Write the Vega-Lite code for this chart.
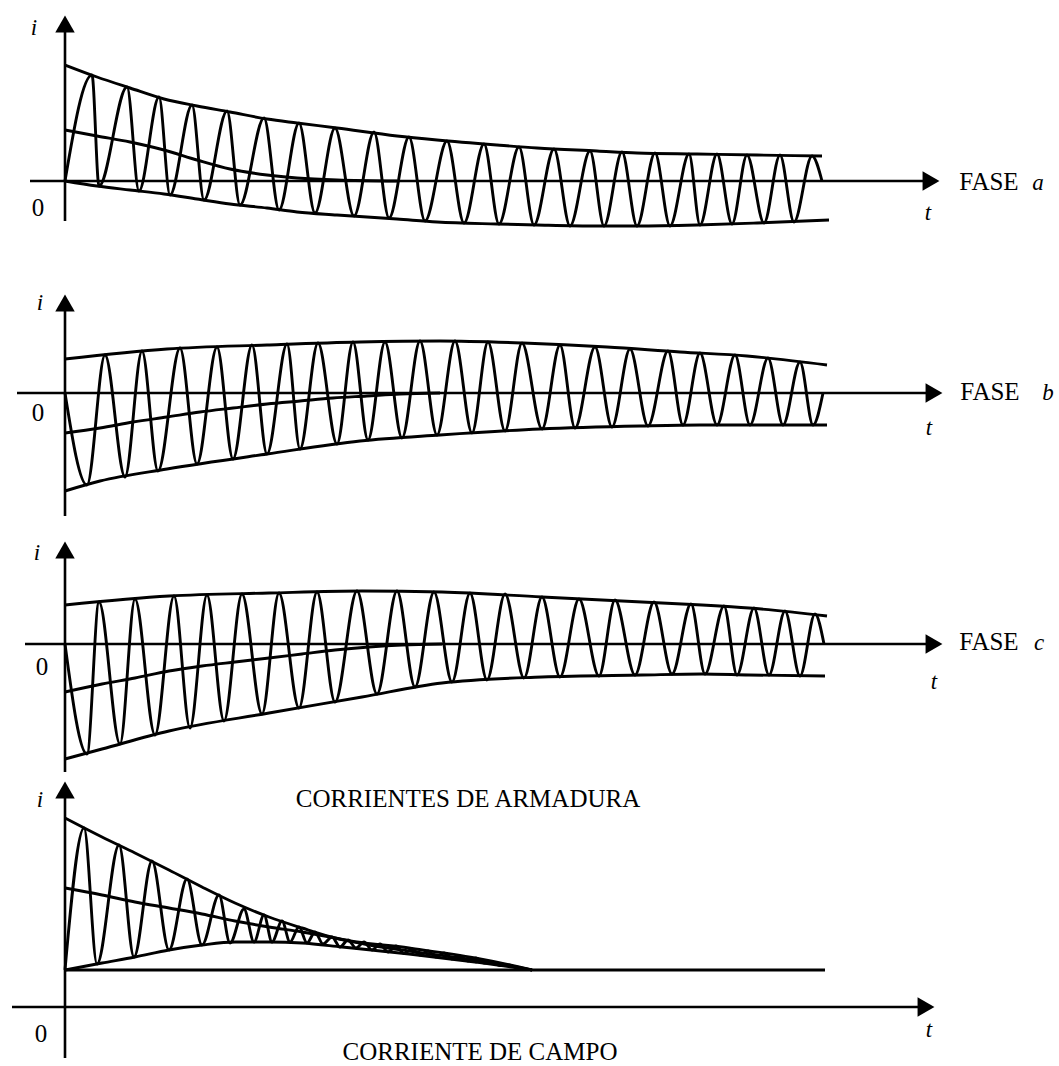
{
"$schema": "https://vega.github.io/schema/vega-lite/v6.json",
"padding": 0,
"spacing": 0,
"bounds": "flush",
"background": "white",
"config": {"view": {"stroke": null}},
"vconcat": [
{
"width": 1059, "height": 265,
"encoding": {
"x": {"field": "t", "type": "quantitative", "scale": {"domain": [-6.5, 99.4], "nice": false, "zero": false}, "axis": null},
"y": {"field": "i", "type": "quantitative", "scale": {"domain": [-8.4, 18.1], "nice": false, "zero": false}, "axis": null}
},
"layer": [
{"data": {"values": [
{"s":"onda","t":0,"i":0},{"s":"onda","t":2.7,"i":10.6},{"s":"onda","t":3.4,"i":-0.5},{"s":"onda","t":6.2,"i":9.4},{"s":"onda","t":7.4,"i":-1.0},{"s":"onda","t":9.4,"i":8.4},{"s":"onda","t":10.5,"i":-1.4},{"s":"onda","t":12.7,"i":7.6},{"s":"onda","t":13.9,"i":-1.9},{"s":"onda","t":16.2,"i":7.0},{"s":"onda","t":17.5,"i":-2.4},{"s":"onda","t":19.9,"i":6.3},{"s":"onda","t":21.4,"i":-2.9},{"s":"onda","t":23.4,"i":5.8},{"s":"onda","t":25.0,"i":-3.2},{"s":"onda","t":27.0,"i":5.3},{"s":"onda","t":28.9,"i":-3.5},{"s":"onda","t":30.9,"i":4.9},{"s":"onda","t":32.4,"i":-3.7},{"s":"onda","t":34.4,"i":4.4},{"s":"onda","t":36.0,"i":-4.0},{"s":"onda","t":38.2,"i":4.0},{"s":"onda","t":39.9,"i":-4.2},{"s":"onda","t":41.9,"i":3.7},{"s":"onda","t":43.4,"i":-4.3},{"s":"onda","t":45.4,"i":3.4},{"s":"onda","t":46.9,"i":-4.4},{"s":"onda","t":48.9,"i":3.2},{"s":"onda","t":50.5,"i":-4.5},{"s":"onda","t":52.5,"i":3.0},{"s":"onda","t":53.9,"i":-4.5},{"s":"onda","t":55.7,"i":2.9},{"s":"onda","t":57.2,"i":-4.5},{"s":"onda","t":59.0,"i":2.8},{"s":"onda","t":60.5,"i":-4.5},{"s":"onda","t":62.4,"i":2.7},{"s":"onda","t":63.5,"i":-4.4},{"s":"onda","t":65.2,"i":2.7},{"s":"onda","t":66.7,"i":-4.3},{"s":"onda","t":68.2,"i":2.6},{"s":"onda","t":69.9,"i":-4.2},{"s":"onda","t":71.5,"i":2.6},{"s":"onda","t":72.9,"i":-4.1},{"s":"onda","t":74.7,"i":2.5},{"s":"onda","t":75.7,"i":0},
{"s":"sup","t":0,"i":11.6},{"s":"sup","t":3.2,"i":10.4},{"s":"sup","t":6.5,"i":9.3},{"s":"sup","t":9.9,"i":8.2},{"s":"sup","t":13.2,"i":7.5},{"s":"sup","t":16.5,"i":6.9},{"s":"sup","t":20.2,"i":6.2},{"s":"sup","t":23.2,"i":5.8},{"s":"sup","t":27.2,"i":5.3},{"s":"sup","t":33.2,"i":4.5},{"s":"sup","t":37.2,"i":4.1},{"s":"sup","t":43.2,"i":3.6},{"s":"sup","t":47.2,"i":3.3},{"s":"sup","t":53.2,"i":3.0},{"s":"sup","t":57.2,"i":2.8},{"s":"sup","t":63.2,"i":2.7},{"s":"sup","t":69.2,"i":2.6},{"s":"sup","t":75.7,"i":2.5},
{"s":"inf","t":0,"i":0},{"s":"inf","t":3.2,"i":-0.5},{"s":"inf","t":6.5,"i":-0.9},{"s":"inf","t":9.9,"i":-1.3},{"s":"inf","t":13.2,"i":-1.8},{"s":"inf","t":16.5,"i":-2.3},{"s":"inf","t":20.2,"i":-2.7},{"s":"inf","t":23.2,"i":-3.1},{"s":"inf","t":27.2,"i":-3.4},{"s":"inf","t":33.2,"i":-3.8},{"s":"inf","t":37.2,"i":-4.1},{"s":"inf","t":43.2,"i":-4.3},{"s":"inf","t":47.2,"i":-4.4},{"s":"inf","t":53.2,"i":-4.5},{"s":"inf","t":57.2,"i":-4.5},{"s":"inf","t":63.2,"i":-4.4},{"s":"inf","t":69.2,"i":-4.2},{"s":"inf","t":76.4,"i":-3.9},
{"s":"dc","t":0,"i":5.1},{"s":"dc","t":3.2,"i":4.5},{"s":"dc","t":6.5,"i":3.9},{"s":"dc","t":9.9,"i":3.1},{"s":"dc","t":13.2,"i":2.1},{"s":"dc","t":16.5,"i":1.2},{"s":"dc","t":20.2,"i":0.6},{"s":"dc","t":23.2,"i":0.3},{"s":"dc","t":27.2,"i":0.1},{"s":"dc","t":33.2,"i":0}
]},
"mark": {"type": "line", "interpolate": "monotone", "color": "black", "strokeWidth": 2.9},
"encoding": {"detail": {"field": "s"}}},
{"data": {"values": [{"t": 0, "i": -4.0, "i2": 15.7}]}, "mark": {"type": "rule", "color": "black", "strokeWidth": 2.6}, "encoding": {"y2": {"field": "i2"}}},
{"data": {"values": [{"t": -3.5, "t2": 86.6, "i": 0}]}, "mark": {"type": "rule", "color": "black", "strokeWidth": 2.6}, "encoding": {"x2": {"field": "t2"}}},
{"data": {"values": [{"t": 0, "i": 15.7}]}, "mark": {"type": "point", "shape": "triangle-up", "size": 380, "filled": true, "color": "black", "opacity": 1, "strokeWidth": 0}},
{"data": {"values": [{"t": 86.6, "i": 0}]}, "mark": {"type": "point", "shape": "triangle-right", "size": 380, "filled": true, "color": "black", "opacity": 1, "strokeWidth": 0}},
{"data": {"values": [{"label": "i", "t": -3.1, "i": 14.6}, {"label": "t", "t": 86.3, "i": -3.9}, {"label": "a", "t": 97.3, "i": -0.9}]}, "mark": {"type": "text", "font": "Liberation Serif", "fontStyle": "italic", "fontSize": 23, "align": "center", "baseline": "alphabetic", "color": "black"}, "encoding": {"text": {"field": "label"}}},
{"data": {"values": [{"label": "0", "t": -2.7, "i": -3.5}, {"label": "FASE", "t": 92.4, "i": -0.9}]}, "mark": {"type": "text", "font": "Liberation Serif", "fontSize": 25, "align": "center", "baseline": "alphabetic", "color": "black"}, "encoding": {"text": {"field": "label"}}}
]
},
{
"width": 1059, "height": 255,
"encoding": {
"x": {"field": "t", "type": "quantitative", "scale": {"domain": [-6.5, 99.4], "nice": false, "zero": false}, "axis": null},
"y": {"field": "i", "type": "quantitative", "scale": {"domain": [-12.7, 12.8], "nice": false, "zero": false}, "axis": null}
},
"layer": [
{"data": {"values": [
{"s":"onda","t":0,"i":0},{"s":"onda","t":2.2,"i":-9.2},{"s":"onda","t":4.0,"i":3.8},{"s":"onda","t":6.0,"i":-8.4},{"s":"onda","t":7.7,"i":4.2},{"s":"onda","t":9.3,"i":-7.8},{"s":"onda","t":11.5,"i":4.5},{"s":"onda","t":13.2,"i":-7.1},{"s":"onda","t":15.2,"i":4.6},{"s":"onda","t":16.8,"i":-6.6},{"s":"onda","t":18.7,"i":4.8},{"s":"onda","t":20.2,"i":-6.1},{"s":"onda","t":22.2,"i":4.9},{"s":"onda","t":23.5,"i":-5.6},{"s":"onda","t":25.3,"i":5.0},{"s":"onda","t":27.2,"i":-5.1},{"s":"onda","t":28.8,"i":5.1},{"s":"onda","t":30.3,"i":-4.7},{"s":"onda","t":32.0,"i":5.1},{"s":"onda","t":33.7,"i":-4.5},{"s":"onda","t":35.5,"i":5.2},{"s":"onda","t":37.2,"i":-4.2},{"s":"onda","t":39.0,"i":5.2},{"s":"onda","t":40.7,"i":-4.0},{"s":"onda","t":42.3,"i":5.1},{"s":"onda","t":44.0,"i":-3.8},{"s":"onda","t":45.7,"i":5.0},{"s":"onda","t":47.7,"i":-3.6},{"s":"onda","t":49.5,"i":4.8},{"s":"onda","t":51.0,"i":-3.5},{"s":"onda","t":53.0,"i":4.6},{"s":"onda","t":54.7,"i":-3.4},{"s":"onda","t":56.5,"i":4.4},{"s":"onda","t":58.3,"i":-3.3},{"s":"onda","t":60.3,"i":4.2},{"s":"onda","t":61.8,"i":-3.2},{"s":"onda","t":63.5,"i":4.0},{"s":"onda","t":65.2,"i":-3.2},{"s":"onda","t":67.0,"i":3.8},{"s":"onda","t":68.5,"i":-3.2},{"s":"onda","t":70.3,"i":3.5},{"s":"onda","t":71.8,"i":-3.2},{"s":"onda","t":73.5,"i":3.1},{"s":"onda","t":74.8,"i":-3.2},{"s":"onda","t":75.8,"i":0},
{"s":"sup","t":0,"i":3.4},{"s":"sup","t":10.2,"i":4.4},{"s":"sup","t":20.2,"i":4.8},{"s":"sup","t":29.5,"i":5.1},{"s":"sup","t":37.5,"i":5.2},{"s":"sup","t":45.8,"i":5.0},{"s":"sup","t":54.2,"i":4.6},{"s":"sup","t":61.5,"i":4.1},{"s":"sup","t":68.2,"i":3.7},{"s":"sup","t":76.2,"i":2.8},
{"s":"inf","t":0,"i":-9.8},{"s":"inf","t":3.5,"i":-8.8},{"s":"inf","t":10.2,"i":-7.6},{"s":"inf","t":20.2,"i":-6.1},{"s":"inf","t":29.5,"i":-4.8},{"s":"inf","t":37.5,"i":-4.2},{"s":"inf","t":47.5,"i":-3.6},{"s":"inf","t":57.5,"i":-3.3},{"s":"inf","t":63.5,"i":-3.2},{"s":"inf","t":76.2,"i":-3.2},
{"s":"dc","t":0,"i":-4.0},{"s":"dc","t":3.5,"i":-3.5},{"s":"dc","t":6.8,"i":-2.9},{"s":"dc","t":10.2,"i":-2.4},{"s":"dc","t":13.5,"i":-1.9},{"s":"dc","t":16.8,"i":-1.5},{"s":"dc","t":20.2,"i":-1.1},{"s":"dc","t":23.5,"i":-0.8},{"s":"dc","t":26.8,"i":-0.5},{"s":"dc","t":30.2,"i":-0.3},{"s":"dc","t":33.5,"i":-0.1},{"s":"dc","t":37.5,"i":0}
]},
"mark": {"type": "line", "interpolate": "monotone", "color": "black", "strokeWidth": 2.9},
"encoding": {"detail": {"field": "s"}}},
{"data": {"values": [{"t": 0, "i": -12.3, "i2": 9.0}]}, "mark": {"type": "rule", "color": "black", "strokeWidth": 2.6}, "encoding": {"y2": {"field": "i2"}}},
{"data": {"values": [{"t": -4.8, "t2": 86.9, "i": 0}]}, "mark": {"type": "rule", "color": "black", "strokeWidth": 2.6}, "encoding": {"x2": {"field": "t2"}}},
{"data": {"values": [{"t": 0, "i": 9.0}]}, "mark": {"type": "point", "shape": "triangle-up", "size": 380, "filled": true, "color": "black", "opacity": 1, "strokeWidth": 0}},
{"data": {"values": [{"t": 86.9, "i": 0}]}, "mark": {"type": "point", "shape": "triangle-right", "size": 380, "filled": true, "color": "black", "opacity": 1, "strokeWidth": 0}},
{"data": {"values": [{"label": "i", "t": -2.5, "i": 8.3}, {"label": "t", "t": 86.4, "i": -4.2}, {"label": "b", "t": 98.3, "i": -0.7}]}, "mark": {"type": "text", "font": "Liberation Serif", "fontStyle": "italic", "fontSize": 23, "align": "center", "baseline": "alphabetic", "color": "black"}, "encoding": {"text": {"field": "label"}}},
{"data": {"values": [{"label": "0", "t": -2.7, "i": -2.8}, {"label": "FASE", "t": 92.5, "i": -0.7}]}, "mark": {"type": "text", "font": "Liberation Serif", "fontSize": 25, "align": "center", "baseline": "alphabetic", "color": "black"}, "encoding": {"text": {"field": "label"}}}
]
},
{
"width": 1059, "height": 255,
"encoding": {
"x": {"field": "t", "type": "quantitative", "scale": {"domain": [-6.5, 99.4], "nice": false, "zero": false}, "axis": null},
"y": {"field": "i", "type": "quantitative", "scale": {"domain": [-13.1, 12.4], "nice": false, "zero": false}, "axis": null}
},
"layer": [
{"data": {"values": [
{"s":"onda","t":0,"i":0},{"s":"onda","t":2.2,"i":-11.0},{"s":"onda","t":3.4,"i":4.2},{"s":"onda","t":5.5,"i":-10.0},{"s":"onda","t":7.0,"i":4.5},{"s":"onda","t":9.0,"i":-9.1},{"s":"onda","t":10.9,"i":4.8},{"s":"onda","t":12.5,"i":-8.4},{"s":"onda","t":14.2,"i":4.9},{"s":"onda","t":15.9,"i":-7.7},{"s":"onda","t":17.7,"i":5.0},{"s":"onda","t":19.7,"i":-7.0},{"s":"onda","t":21.4,"i":5.1},{"s":"onda","t":23.4,"i":-6.4},{"s":"onda","t":25.2,"i":5.2},{"s":"onda","t":27.0,"i":-5.8},{"s":"onda","t":29.2,"i":5.3},{"s":"onda","t":31.2,"i":-5.0},{"s":"onda","t":33.2,"i":5.3},{"s":"onda","t":35.0,"i":-4.3},{"s":"onda","t":36.9,"i":5.2},{"s":"onda","t":38.7,"i":-3.8},{"s":"onda","t":40.5,"i":5.1},{"s":"onda","t":42.2,"i":-3.6},{"s":"onda","t":44.0,"i":5.0},{"s":"onda","t":45.9,"i":-3.4},{"s":"onda","t":47.7,"i":4.7},{"s":"onda","t":49.5,"i":-3.3},{"s":"onda","t":51.4,"i":4.5},{"s":"onda","t":53.4,"i":-3.2},{"s":"onda","t":55.0,"i":4.4},{"s":"onda","t":57.0,"i":-3.1},{"s":"onda","t":58.9,"i":4.2},{"s":"onda","t":60.7,"i":-3.0},{"s":"onda","t":62.6,"i":4.0},{"s":"onda","t":64.0,"i":-3.0},{"s":"onda","t":65.9,"i":3.8},{"s":"onda","t":67.2,"i":-3.1},{"s":"onda","t":68.9,"i":3.6},{"s":"onda","t":70.4,"i":-3.1},{"s":"onda","t":72.0,"i":3.3},{"s":"onda","t":73.5,"i":-3.2},{"s":"onda","t":75.0,"i":3.0},{"s":"onda","t":75.9,"i":0},
{"s":"sup","t":0,"i":3.9},{"s":"sup","t":10.4,"i":4.8},{"s":"sup","t":20.4,"i":5.1},{"s":"sup","t":29.7,"i":5.3},{"s":"sup","t":37.7,"i":5.2},{"s":"sup","t":47.7,"i":4.7},{"s":"sup","t":57.7,"i":4.2},{"s":"sup","t":63.7,"i":3.9},{"s":"sup","t":68.4,"i":3.6},{"s":"sup","t":76.2,"i":2.8},
{"s":"inf","t":0,"i":-11.5},{"s":"inf","t":3.7,"i":-10.5},{"s":"inf","t":10.4,"i":-8.7},{"s":"inf","t":20.4,"i":-6.9},{"s":"inf","t":29.7,"i":-5.3},{"s":"inf","t":37.7,"i":-3.9},{"s":"inf","t":47.7,"i":-3.3},{"s":"inf","t":57.7,"i":-3.1},{"s":"inf","t":63.7,"i":-3.0},{"s":"inf","t":68.4,"i":-3.1},{"s":"inf","t":76.0,"i":-3.2},
{"s":"dc","t":0,"i":-4.8},{"s":"dc","t":3.7,"i":-4.0},{"s":"dc","t":7.0,"i":-3.4},{"s":"dc","t":10.4,"i":-2.7},{"s":"dc","t":13.7,"i":-2.2},{"s":"dc","t":17.0,"i":-1.8},{"s":"dc","t":20.4,"i":-1.4},{"s":"dc","t":23.7,"i":-1.0},{"s":"dc","t":27.0,"i":-0.6},{"s":"dc","t":30.4,"i":-0.3},{"s":"dc","t":33.7,"i":-0.1},{"s":"dc","t":37.7,"i":0}
]},
"mark": {"type": "line", "interpolate": "monotone", "color": "black", "strokeWidth": 2.9},
"encoding": {"detail": {"field": "s"}}},
{"data": {"values": [{"t": 0, "i": -12.8, "i2": 9.4}]}, "mark": {"type": "rule", "color": "black", "strokeWidth": 2.6}, "encoding": {"y2": {"field": "i2"}}},
{"data": {"values": [{"t": -4.0, "t2": 86.9, "i": 0}]}, "mark": {"type": "rule", "color": "black", "strokeWidth": 2.6}, "encoding": {"x2": {"field": "t2"}}},
{"data": {"values": [{"t": 0, "i": 9.4}]}, "mark": {"type": "point", "shape": "triangle-up", "size": 380, "filled": true, "color": "black", "opacity": 1, "strokeWidth": 0}},
{"data": {"values": [{"t": 86.9, "i": 0}]}, "mark": {"type": "point", "shape": "triangle-right", "size": 380, "filled": true, "color": "black", "opacity": 1, "strokeWidth": 0}},
{"data": {"values": [{"label": "i", "t": -2.8, "i": 8.4}, {"label": "t", "t": 86.9, "i": -4.5}, {"label": "c", "t": 97.4, "i": -0.6}]}, "mark": {"type": "text", "font": "Liberation Serif", "fontStyle": "italic", "fontSize": 23, "align": "center", "baseline": "alphabetic", "color": "black"}, "encoding": {"text": {"field": "label"}}},
{"data": {"values": [{"label": "0", "t": -2.3, "i": -3.1}, {"label": "FASE", "t": 92.4, "i": -0.6}]}, "mark": {"type": "text", "font": "Liberation Serif", "fontSize": 25, "align": "center", "baseline": "alphabetic", "color": "black"}, "encoding": {"text": {"field": "label"}}}
]
},
{
"width": 1059, "height": 291,
"encoding": {
"x": {"field": "t", "type": "quantitative", "scale": {"domain": [-6.5, 99.4], "nice": false, "zero": false}, "axis": null},
"y": {"field": "i", "type": "quantitative", "scale": {"domain": [-5.9, 23.2], "nice": false, "zero": false}, "axis": null}
},
"layer": [
{"data": {"values": [
{"s":"base","t":0,"i":3.7},{"s":"base","t":76.0,"i":3.7},
{"s":"onda","t":0,"i":3.7},{"s":"onda","t":1.9,"i":17.9},{"s":"onda","t":3.2,"i":4.3},{"s":"onda","t":5.4,"i":16.2},{"s":"onda","t":6.9,"i":5.0},{"s":"onda","t":8.7,"i":14.6},{"s":"onda","t":10.4,"i":5.7},{"s":"onda","t":12.2,"i":12.8},{"s":"onda","t":13.7,"i":6.2},{"s":"onda","t":15.4,"i":11.2},{"s":"onda","t":16.5,"i":6.4},{"s":"onda","t":17.9,"i":9.8},{"s":"onda","t":18.9,"i":6.5},{"s":"onda","t":19.9,"i":9.2},{"s":"onda","t":20.7,"i":6.5},{"s":"onda","t":21.7,"i":8.6},{"s":"onda","t":22.5,"i":6.5},{"s":"onda","t":23.4,"i":8.0},{"s":"onda","t":24.2,"i":6.4},{"s":"onda","t":25.0,"i":7.5},{"s":"onda","t":25.8,"i":6.3},{"s":"onda","t":26.7,"i":7.0},{"s":"onda","t":27.5,"i":6.0},{"s":"onda","t":28.3,"i":6.7},{"s":"onda","t":29.1,"i":5.9},{"s":"onda","t":29.9,"i":6.5},{"s":"onda","t":30.7,"i":5.7},{"s":"onda","t":31.5,"i":6.3},{"s":"onda","t":32.3,"i":5.5},{"s":"onda","t":33.1,"i":6.1},{"s":"onda","t":33.9,"i":5.35},{"s":"onda","t":34.7,"i":5.8},{"s":"onda","t":35.5,"i":5.2},{"s":"onda","t":36.3,"i":5.6},{"s":"onda","t":37.1,"i":5.0},{"s":"onda","t":37.9,"i":5.4},{"s":"onda","t":38.7,"i":4.8},{"s":"onda","t":39.5,"i":5.1},{"s":"onda","t":40.3,"i":4.6},{"s":"onda","t":41.1,"i":4.9},{"s":"onda","t":41.9,"i":4.4},{"s":"onda","t":42.7,"i":4.5},{"s":"onda","t":43.5,"i":4.15},{"s":"onda","t":44.3,"i":4.2},{"s":"onda","t":45.1,"i":3.95},{"s":"onda","t":46.2,"i":3.75},
{"s":"sup","t":0,"i":18.9},{"s":"sup","t":3.7,"i":17.0},{"s":"sup","t":7.0,"i":15.4},{"s":"sup","t":10.4,"i":13.7},{"s":"sup","t":13.7,"i":12.0},{"s":"sup","t":17.0,"i":10.4},{"s":"sup","t":20.4,"i":9.0},{"s":"sup","t":23.7,"i":7.9},{"s":"sup","t":27.0,"i":6.9},{"s":"sup","t":34.4,"i":5.9},{"s":"sup","t":41.0,"i":4.9},{"s":"sup","t":45.4,"i":4.0},{"s":"sup","t":46.7,"i":3.7},
{"s":"inf","t":0,"i":3.7},{"s":"inf","t":3.7,"i":4.4},{"s":"inf","t":7.0,"i":5.0},{"s":"inf","t":10.4,"i":5.7},{"s":"inf","t":13.7,"i":6.2},{"s":"inf","t":17.0,"i":6.5},{"s":"inf","t":20.4,"i":6.5},{"s":"inf","t":23.7,"i":6.4},{"s":"inf","t":27.7,"i":6.0},{"s":"inf","t":34.4,"i":5.3},{"s":"inf","t":41.0,"i":4.5},{"s":"inf","t":45.4,"i":3.9},{"s":"inf","t":46.7,"i":3.7},
{"s":"dc","t":0,"i":11.9},{"s":"dc","t":3.7,"i":11.2},{"s":"dc","t":7.0,"i":10.5},{"s":"dc","t":10.4,"i":9.9},{"s":"dc","t":13.7,"i":9.3},{"s":"dc","t":17.0,"i":8.6},{"s":"dc","t":20.4,"i":8.0},{"s":"dc","t":23.7,"i":7.5},{"s":"dc","t":27.0,"i":6.9},{"s":"dc","t":30.4,"i":6.2},{"s":"dc","t":34.4,"i":5.6},{"s":"dc","t":41.0,"i":4.7},{"s":"dc","t":45.4,"i":3.95},{"s":"dc","t":46.7,"i":3.7}
]},
"mark": {"type": "line", "interpolate": "monotone", "color": "black", "strokeWidth": 2.9},
"encoding": {"detail": {"field": "s"}}},
{"data": {"values": [{"t": 0, "i": -5.1, "i2": 21.7}]}, "mark": {"type": "rule", "color": "black", "strokeWidth": 2.6}, "encoding": {"y2": {"field": "i2"}}},
{"data": {"values": [{"t": -5.3, "t2": 86.1, "i": 0}]}, "mark": {"type": "rule", "color": "black", "strokeWidth": 2.6}, "encoding": {"x2": {"field": "t2"}}},
{"data": {"values": [{"t": 0, "i": 21.7}]}, "mark": {"type": "point", "shape": "triangle-up", "size": 380, "filled": true, "color": "black", "opacity": 1, "strokeWidth": 0}},
{"data": {"values": [{"t": 86.1, "i": 0}]}, "mark": {"type": "point", "shape": "triangle-right", "size": 380, "filled": true, "color": "black", "opacity": 1, "strokeWidth": 0}},
{"data": {"values": [{"label": "i", "t": -2.5, "i": 20.0}, {"label": "t", "t": 86.4, "i": -3.0}]}, "mark": {"type": "text", "font": "Liberation Serif", "fontStyle": "italic", "fontSize": 23, "align": "center", "baseline": "alphabetic", "color": "black"}, "encoding": {"text": {"field": "label"}}},
{"data": {"values": [{"label": "0", "t": -2.4, "i": -3.5}, {"label": "CORRIENTES DE ARMADURA", "t": 40.3, "i": 20.0}, {"label": "CORRIENTE DE CAMPO", "t": 41.5, "i": -5.3}]}, "mark": {"type": "text", "font": "Liberation Serif", "fontSize": 25, "align": "center", "baseline": "alphabetic", "color": "black"}, "encoding": {"text": {"field": "label"}}}
]
}
]
}
